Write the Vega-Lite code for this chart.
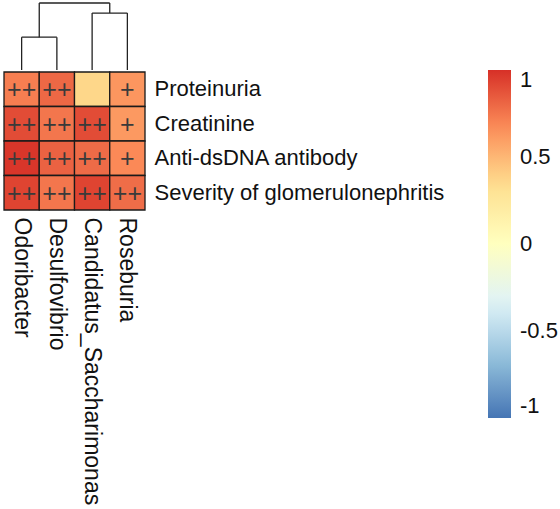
{
  "$schema": "https://vega.github.io/schema/vega-lite/v6.json",
  "padding": {"left": 3, "top": 2, "right": 0, "bottom": 0},
  "spacing": 0,
  "background": "white",
  "config": {
    "view": {"stroke": null},
    "font": "Liberation Sans"
  },
  "datasets": {
    "tree": [
      {"x": 0.5, "x2": 0.5, "h": 0, "h2": 0.49},
      {"x": 1.5, "x2": 1.5, "h": 0, "h2": 0.49},
      {"x": 0.5, "x2": 1.5, "h": 0.49, "h2": 0.49},
      {"x": 2.5, "x2": 2.5, "h": 0, "h2": 0.85},
      {"x": 3.5, "x2": 3.5, "h": 0, "h2": 0.85},
      {"x": 2.5, "x2": 3.5, "h": 0.85, "h2": 0.85},
      {"x": 1.0, "x2": 1.0, "h": 0.49, "h2": 1.0},
      {"x": 3.0, "x2": 3.0, "h": 0.85, "h2": 1.0},
      {"x": 1.0, "x2": 3.0, "h": 1.0, "h2": 1.0}
    ],
    "cells": [
      {"genus": "Odoribacter", "trait": "Proteinuria", "r": 0.72, "sig": "++"},
      {"genus": "Desulfovibrio", "trait": "Proteinuria", "r": 0.8, "sig": "++"},
      {"genus": "Candidatus_Saccharimonas", "trait": "Proteinuria", "r": 0.37, "sig": ""},
      {"genus": "Roseburia", "trait": "Proteinuria", "r": 0.63, "sig": "+"},
      {"genus": "Odoribacter", "trait": "Creatinine", "r": 0.9, "sig": "++"},
      {"genus": "Desulfovibrio", "trait": "Creatinine", "r": 0.75, "sig": "++"},
      {"genus": "Candidatus_Saccharimonas", "trait": "Creatinine", "r": 0.9, "sig": "++"},
      {"genus": "Roseburia", "trait": "Creatinine", "r": 0.62, "sig": "+"},
      {"genus": "Odoribacter", "trait": "Anti-dsDNA antibody", "r": 0.98, "sig": "++"},
      {"genus": "Desulfovibrio", "trait": "Anti-dsDNA antibody", "r": 0.82, "sig": "++"},
      {"genus": "Candidatus_Saccharimonas", "trait": "Anti-dsDNA antibody", "r": 0.79, "sig": "++"},
      {"genus": "Roseburia", "trait": "Anti-dsDNA antibody", "r": 0.68, "sig": "+"},
      {"genus": "Odoribacter", "trait": "Severity of glomerulonephritis", "r": 0.93, "sig": "++"},
      {"genus": "Desulfovibrio", "trait": "Severity of glomerulonephritis", "r": 0.75, "sig": "++"},
      {"genus": "Candidatus_Saccharimonas", "trait": "Severity of glomerulonephritis", "r": 0.93, "sig": "++"},
      {"genus": "Roseburia", "trait": "Severity of glomerulonephritis", "r": 0.78, "sig": "++"}
    ]
  },
  "vconcat": [
    {
      "width": 141,
      "height": 67,
      "data": {"name": "tree"},
      "mark": {"type": "rule", "color": "#222222", "strokeWidth": 1.3},
      "encoding": {
        "x": {"field": "x", "type": "quantitative", "scale": {"domain": [0, 4], "nice": false, "zero": false}, "axis": null},
        "x2": {"field": "x2"},
        "y": {"field": "h", "type": "quantitative", "scale": {"domain": [0, 1], "nice": false}, "axis": null},
        "y2": {"field": "h2"}
      }
    },
    {
      "width": 141,
      "height": 138,
      "data": {"name": "cells"},
      "encoding": {
        "x": {
          "field": "genus", "type": "nominal",
          "sort": ["Odoribacter", "Desulfovibrio", "Candidatus_Saccharimonas", "Roseburia"],
          "scale": {"paddingInner": 0, "paddingOuter": 0},
          "axis": {"orient": "bottom", "title": null, "domain": false, "ticks": false, "labelAngle": 90, "labelAlign": "left", "labelBaseline": "middle", "labelPadding": 7, "labelFontSize": 23, "labelColor": "#111111", "labelFont": "Liberation Sans", "labelLimit": 400}
        },
        "y": {
          "field": "trait", "type": "nominal",
          "sort": ["Proteinuria", "Creatinine", "Anti-dsDNA antibody", "Severity of glomerulonephritis"],
          "scale": {"paddingInner": 0, "paddingOuter": 0},
          "axis": {"orient": "right", "title": null, "domain": false, "ticks": false, "labelPadding": 9, "labelFontSize": 22, "labelColor": "#111111", "labelFont": "Liberation Sans", "labelLimit": 400}
        }
      },
      "layer": [
        {
          "mark": {"type": "rect", "stroke": "#1a1a1a", "strokeWidth": 1.3},
          "encoding": {
            "color": {
              "field": "r", "type": "quantitative",
              "scale": {"domain": [-1, 1], "interpolate": "rgb", "range": ["#4575B4", "#91BFDB", "#E0F3F8", "#FFFFBF", "#FEE090", "#FC8D59", "#D73027"]},
              "legend": {
                "orient": "none", "legendX": 484, "legendY": 67,
                "direction": "vertical", "title": null,
                "gradientLength": 348, "gradientThickness": 23, "gradientStrokeWidth": 0,
                "values": [-1, -0.5, 0, 0.5, 1],
                "labelExpr": "'' + datum.value",
                "labelFontSize": 22, "labelColor": "#111111", "labelFont": "Liberation Sans",
                "labelBaseline": "middle", "labelOffset": 9, "labelOverlap": false
              }
            }
          }
        },
        {
          "mark": {"type": "text", "fontSize": 25, "color": "#3a3a3a", "font": "Liberation Sans", "baseline": "middle", "dy": 1},
          "encoding": {"text": {"field": "sig"}}
        }
      ]
    }
  ]
}
